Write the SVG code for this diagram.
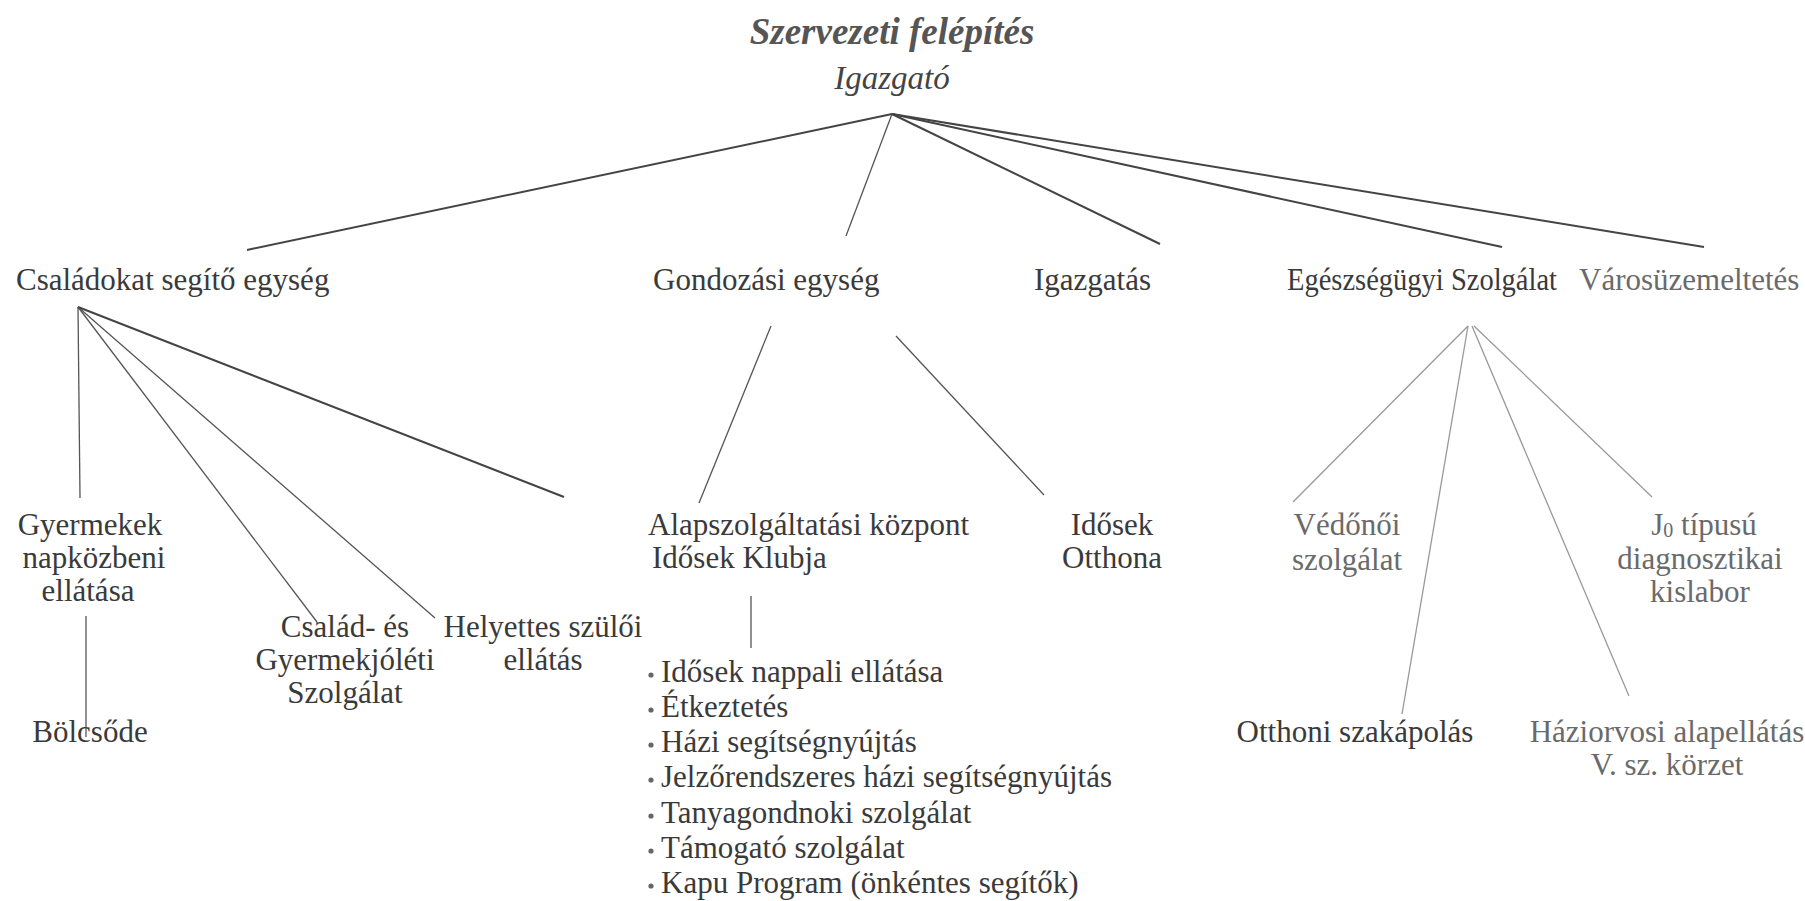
<svg xmlns="http://www.w3.org/2000/svg" width="1805" height="901" viewBox="0 0 1805 901">
<style>
text{font-family:"Liberation Serif","Times New Roman",serif;font-size:31px;fill:#3a3a3a}
.c{text-anchor:middle}
.lt{fill:#6a6a6a}
.title{font-style:italic;font-weight:bold;font-size:37px;fill:#555}
.dir{font-style:italic;font-size:33px;fill:#444}
.k{stroke:#444;stroke-width:2;fill:none}
.m{stroke:#555;stroke-width:1.3;fill:none}
.g{stroke:#999;stroke-width:1.3;fill:none}
.b{fill:#666}
</style>
<rect width="1805" height="901" fill="#fff"/>
<g id="connectors">
<line class="k" x1="892" y1="114" x2="247" y2="250"/>
<line class="m" x1="892" y1="114" x2="846" y2="236"/>
<line class="k" x1="892" y1="114" x2="1160" y2="244"/>
<line class="k" x1="892" y1="114" x2="1502" y2="247"/>
<line class="k" x1="892" y1="114" x2="1704" y2="247"/>
<line class="m" x1="78" y1="307" x2="80" y2="498"/>
<line class="m" x1="78" y1="307" x2="317" y2="622"/>
<line class="m" x1="78" y1="307" x2="435" y2="618"/>
<line class="k" x1="78" y1="307" x2="564" y2="497"/>
<line class="m" x1="86" y1="616" x2="86" y2="737"/>
<line class="m" x1="771" y1="326" x2="699" y2="503"/>
<line class="m" x1="896" y1="336" x2="1044" y2="495"/>
<line class="m" x1="751" y1="596" x2="751" y2="648"/>
<line class="g" x1="1468" y1="326" x2="1293" y2="502"/>
<line class="g" x1="1468" y1="326" x2="1402" y2="714"/>
<line class="g" x1="1472" y1="326" x2="1629" y2="696"/>
<line class="g" x1="1474" y1="326" x2="1652" y2="497"/>
</g>
<g id="title"><text class="title c" x="892" y="44">Szervezeti felépítés</text></g>
<g id="igazgato"><text class="dir c" x="892" y="89">Igazgató</text></g>
<g id="csaladokat"><text x="16" y="290">Családokat segítő egység</text></g>
<g id="gondozasi"><text x="653" y="290">Gondozási egység</text></g>
<g id="igazgatas"><text x="1034" y="290">Igazgatás</text></g>
<g id="egeszsegugyi"><text x="1287" y="290" textLength="270" lengthAdjust="spacingAndGlyphs">Egészségügyi Szolgálat</text></g>
<g id="varosuzemeltetes"><text class="lt" x="1579" y="290">Városüzemeltetés</text></g>
<g id="gyermekek"><text class="c" x="90" y="535">Gyermekek</text><text class="c" x="94" y="568">napközbeni</text><text class="c" x="88" y="601">ellátása</text></g>
<g id="bolcsode"><text class="c" x="90" y="742">Bölcsőde</text></g>
<g id="csalad-es"><text class="c" x="345" y="637">Család- és</text><text class="c" x="345" y="670">Gyermekjóléti</text><text class="c" x="345" y="703">Szolgálat</text></g>
<g id="helyettes"><text class="c" x="543" y="637">Helyettes szülői</text><text class="c" x="543" y="670">ellátás</text></g>
<g id="alapszolgaltatasi"><text x="648" y="535">Alapszolgáltatási központ</text><text x="652" y="568">Idősek Klubja</text></g>
<g id="idosek-otthona"><text class="c" x="1112" y="535">Idősek</text><text class="c" x="1112" y="568">Otthona</text></g>
<g id="szolgaltatasok">
<circle class="b" cx="651" cy="675" r="2.6"/><text x="661" y="682">Idősek nappali ellátása</text>
<circle class="b" cx="651" cy="710" r="2.6"/><text x="661" y="717">Étkeztetés</text>
<circle class="b" cx="651" cy="745" r="2.6"/><text x="661" y="752">Házi segítségnyújtás</text>
<circle class="b" cx="651" cy="780" r="2.6"/><text x="661" y="787">Jelzőrendszeres házi segítségnyújtás</text>
<circle class="b" cx="651" cy="816" r="2.6"/><text x="661" y="823">Tanyagondnoki szolgálat</text>
<circle class="b" cx="651" cy="851" r="2.6"/><text x="661" y="858">Támogató szolgálat</text>
<circle class="b" cx="651" cy="886" r="2.6"/><text x="661" y="893">Kapu Program (önkéntes segítők)</text>
</g>
<g id="vedonoi"><text class="c lt" x="1347" y="535">Védőnői</text><text class="c lt" x="1347" y="570">szolgálat</text></g>
<g id="j0"><text class="c lt" x="1704" y="535">J<tspan font-size="20" dy="2">0</tspan><tspan dy="-2"> típusú</tspan></text><text class="c lt" x="1700" y="569">diagnosztikai</text><text class="c lt" x="1700" y="602">kislabor</text></g>
<g id="otthoni"><text class="c" x="1355" y="742">Otthoni szakápolás</text></g>
<g id="haziorvosi"><text class="c lt" x="1667" y="742">Háziorvosi alapellátás</text><text class="c lt" x="1667" y="775">V. sz. körzet</text></g>
</svg>
